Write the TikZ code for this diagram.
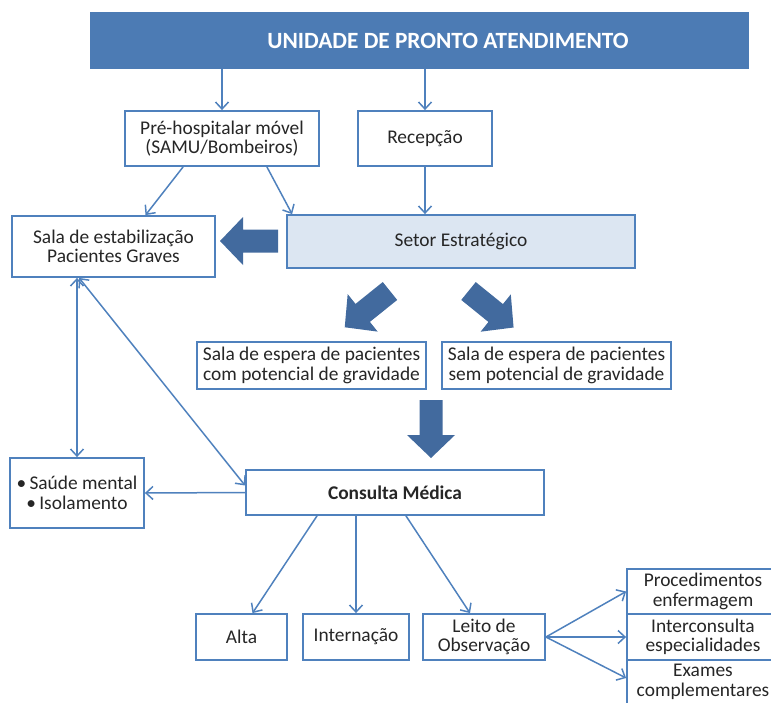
\documentclass[tikz,border=0pt]{standalone}
\usepackage{fontspec}
\setmainfont{Carlito}
\usepackage{tikz}
\usepackage{xcolor}
\usetikzlibrary{arrows.meta}
\definecolor{boxblue}{RGB}{79,129,189}
\definecolor{bannerblue}{RGB}{76,123,180}
\definecolor{arrowblue}{RGB}{66,106,158}
\definecolor{setorfill}{RGB}{220,230,242}
\tikzset{
    plain-box/.style = {draw=boxblue, fill=white, line width=1.8pt, rectangle, inner sep=0pt, align=center, text=black!85, font=\fontsize{19.4}{19.6}\selectfont},
    banner-box/.style = {fill=bannerblue, rectangle, inner sep=0pt, text=white, font=\fontsize{23.3}{24}\selectfont\bfseries},
    setor-box/.style = {plain-box, fill=setorfill},
    conn-line/.style = {draw=boxblue, line width=1.5pt, -{Straight Barb[length=7pt,width=13pt]}},
    conn-both/.style = {draw=boxblue, line width=1.5pt, {Straight Barb[length=7pt,width=13pt]}-{Straight Barb[length=7pt,width=13pt]}},
    big-arrow/.style = {fill=arrowblue},
}
\newcommand{\fatarrow}[2]{%
    \fill[big-arrow, shift={#1}, rotate=#2] (0,-11.5) -- (35,-11.5) -- (35,-24) -- (58,0) -- (35,24) -- (35,11.5) -- (0,11.5) -- cycle;}

\begin{document}
\begin{tikzpicture}[x=1pt, y=-1pt]
\path[use as bounding box, clip] (0,0) rectangle (771,702);

% top row
\node [banner-box, minimum width=659pt, minimum height=57pt] (unidade) at (419.5,40.5) {\hspace*{57pt}UNIDADE DE PRONTO ATENDIMENTO};
\node [plain-box, minimum width=194pt, minimum height=55pt] (prehosp) at (222,138.5) {Pré-hospitalar móvel\\(SAMU/Bombeiros)};
\node [plain-box, minimum width=134pt, minimum height=55pt] (recepcao) at (425,138.5) {Recepção};
\node [plain-box, minimum width=203pt, minimum height=61pt] (sala) at (113.5,246.5) {Sala de estabilização\\Pacientes Graves};
\node [setor-box, minimum width=348pt, minimum height=53pt] (setor) at (461,241.5) {Setor Estratégico};

% waiting rooms
\node [plain-box, minimum width=229pt, minimum height=47pt] (esperacom) at (311.5,365.5) {Sala de espera de pacientes\\com potencial de gravidade};
\node [plain-box, minimum width=229pt, minimum height=47pt] (esperasem) at (556.5,365.5) {Sala de espera de pacientes\\sem potencial de gravidade};

% consultation
\node [plain-box, minimum width=298pt, minimum height=45pt, font=\fontsize{19.4}{19.6}\selectfont\bfseries] (consulta) at (395,492.5) {Consulta Médica};
\node [plain-box, minimum width=134pt, minimum height=70pt] (saude) at (77,493) {\textbullet\,Saúde mental\\\textbullet\,Isolamento};

% outcomes
\node [plain-box, minimum width=91pt, minimum height=46pt] (alta) at (241.5,637) {Alta};
\node [plain-box, minimum width=106pt, minimum height=46pt] (internacao) at (356,637) {Internação};
\node [plain-box, minimum width=122pt, minimum height=46pt] (leito) at (484,637) {Leito de\\Observação};
\node [plain-box, minimum width=152pt, minimum height=45pt] (proced) at (703,591.5) {Procedimentos\\enfermagem};
\node [plain-box, minimum width=152pt, minimum height=46pt] (intercons) at (703,637) {Interconsulta\\especialidades};
\node [plain-box, minimum width=152pt, minimum height=44pt] (exames) at (703,682) {Exames\\complementares};

% connectors
\draw [conn-line] (unidade.south -| prehosp.north) -- (prehosp.north);
\draw [conn-line] (unidade.south -| recepcao.north) -- (recepcao.north);
\draw [conn-line] ([xshift=59pt]prehosp.south west) -- ([xshift=32pt]sala.north);
\draw [conn-line] ([xshift=-53pt]prehosp.south east) -- ([xshift=6pt]setor.north west);
\draw [conn-line] (recepcao.south) -- (recepcao.south |- setor.north);
\draw [conn-both] (saude.north |- sala.south) -- (saude.north);
\draw [conn-both] ([xshift=68pt]sala.south west) -- ([yshift=7pt]consulta.west);
\draw [conn-line] (consulta.west) -- (saude.east);
\draw [conn-line] ([xshift=-78pt]consulta.south) -- ([xshift=11pt]alta.north);
\draw [conn-line] (internacao.north |- consulta.south) -- (internacao.north);
\draw [conn-line] ([xshift=11pt]consulta.south) -- ([xshift=-14pt]leito.north);
\draw [conn-line] (leito.east) -- (proced.west);
\draw [conn-line] (leito.east) -- (intercons.west);
\draw [conn-line] (leito.east) -- ([yshift=4pt]exames.west);

% block arrows
\fatarrow{(278,241)}{180}
\fatarrow{(390,291)}{218.7}
\fatarrow{(468.5,291)}{-39}
\fatarrow{(431,400)}{-90}
\end{tikzpicture}
\end{document}
